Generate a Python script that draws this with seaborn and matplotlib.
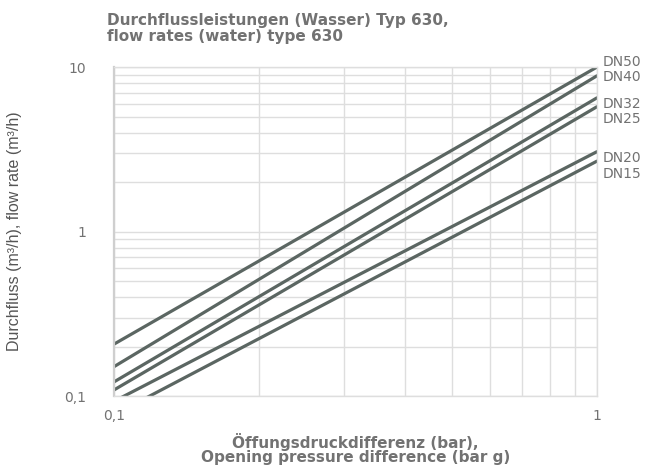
import matplotlib
matplotlib.use("Agg")
import matplotlib.pyplot as plt
import matplotlib.ticker as mticker
import numpy as np
import pandas as pd
import seaborn as sns

# Flow-rate lines, read at opening pressure 0.1 bar and 1 bar
sizes = ["DN50", "DN40", "DN32", "DN25", "DN20", "DN15"]
pressure_ends = [0.1, 1.0]
flow_at_low = [0.207, 0.151, 0.122, 0.109, 0.093, 0.077]
flow_at_high = [10.0, 8.85, 6.5, 5.74, 3.06, 2.68]
# vertical placement of the size labels at the right edge
label_y = [10.73, 8.70, 5.96, 4.83, 2.80, 2.24]

rows = []
for name, lo, hi in zip(sizes, flow_at_low, flow_at_high):
    rows.append({"size": name, "dp": pressure_ends[0], "q": lo})
    rows.append({"size": name, "dp": pressure_ends[1], "q": hi})
df = pd.DataFrame(rows)

sns.set_theme(style="white")
plt.rcParams["font.family"] = ["DejaVu Sans"]

line_color = "#5b6662"
text_color = "#727272"
grid_color = "#dedede"

fig = plt.figure(figsize=(6.61, 4.66), dpi=100)
ax = fig.add_axes([0.1725, 0.150, 0.7305, 0.706])

sns.lineplot(data=df, x="dp", y="q", hue="size", hue_order=sizes,
             palette=[line_color] * len(sizes), linewidth=2.3,
             legend=False, ax=ax)

ax.set_xscale("log")
ax.set_yscale("log")
ax.set_xlim(0.1, 1.0)
ax.set_ylim(0.1, 10.0)

ax.xaxis.set_major_locator(mticker.FixedLocator([0.1, 1.0]))
ax.xaxis.set_minor_locator(mticker.LogLocator(base=10, subs=np.arange(2, 10)))
ax.yaxis.set_major_locator(mticker.FixedLocator([0.1, 1.0, 10.0]))
ax.yaxis.set_minor_locator(mticker.LogLocator(base=10, subs=np.arange(2, 10)))
ax.xaxis.set_minor_formatter(mticker.NullFormatter())
ax.yaxis.set_minor_formatter(mticker.NullFormatter())
ax.xaxis.set_major_formatter(mticker.FixedFormatter(["0,1", "1"]))
ax.yaxis.set_major_formatter(mticker.FixedFormatter(["0,1", "1", "10"]))

ax.grid(True, which="both", color=grid_color, linewidth=1.0)
ax.set_axisbelow(True)
for side in ["top", "right", "bottom"]:
    ax.spines[side].set_color(grid_color)
    ax.spines[side].set_linewidth(1.0)
ax.spines["left"].set_color("#cfcfcf")
ax.spines["left"].set_linewidth(1.6)

ax.tick_params(which="both", length=0, labelsize=10, colors=text_color)
ax.tick_params(axis="y", pad=20)
ax.tick_params(axis="x", pad=9)

ax.set_xlabel("Öffungsdruckdifferenz (bar),\nOpening pressure difference (bar g)",
              fontsize=11, fontweight="bold", color=text_color,
              linespacing=0.92, va="top")
ax.xaxis.set_label_coords(0.5, -0.112)
ax.set_ylabel("Durchfluss (m³/h), flow rate (m³/h)",
              fontsize=11.5, color="#555555",
              family=["Liberation Sans Narrow", "Liberation Sans", "DejaVu Sans"])
ax.yaxis.set_label_coords(-0.19, 0.5)

for name, yv in zip(sizes, label_y):
    ax.text(1.012, yv, name, transform=ax.get_yaxis_transform(),
            fontsize=10, color=text_color, va="center", ha="left",
            clip_on=False)

fig.text(0.162, 0.972, "Durchflussleistungen (Wasser) Typ 630,\nflow rates (water) type 630",
         fontsize=11, fontweight="bold", color=text_color,
         ha="left", va="top", linespacing=1.05)

fig.savefig("out.png", dpi=100)
